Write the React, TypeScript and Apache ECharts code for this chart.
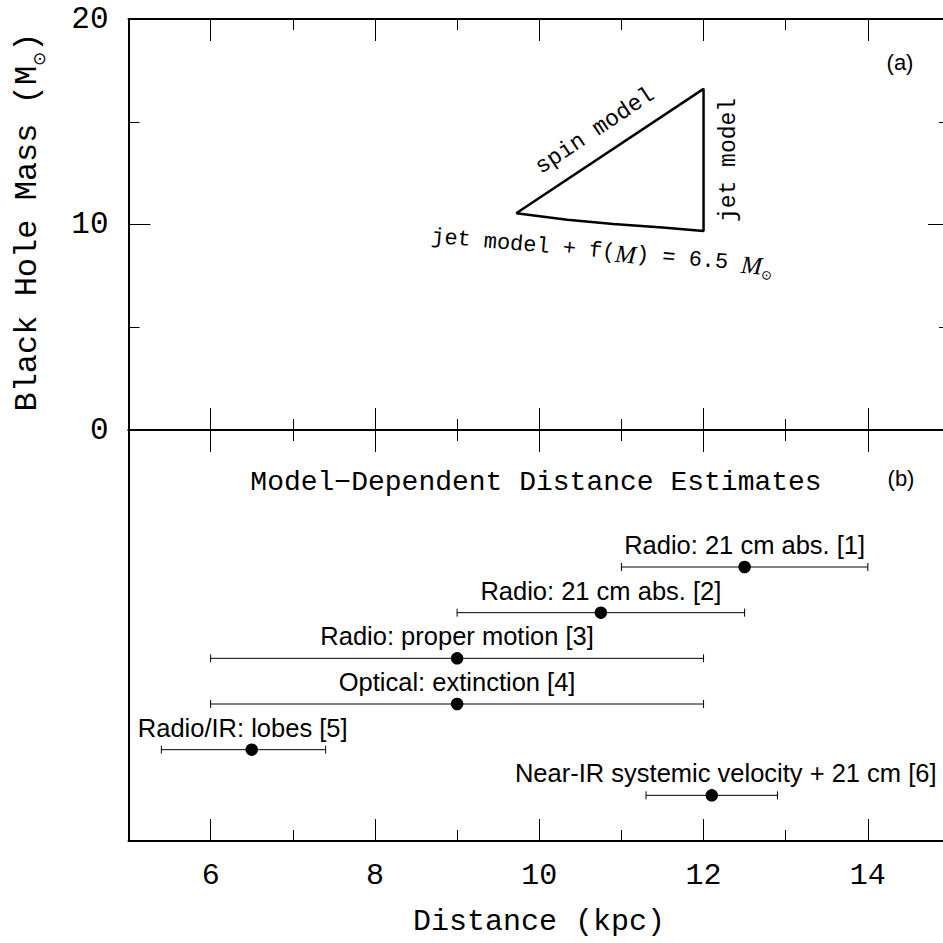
import React, { useEffect, useRef } from 'react';
import * as echarts from 'echarts';

// ---- data ----
const triangleX = [9.72, 12.0, 12.0, 11.5, 10.9, 10.34, 9.72];
const triangleY = [10.55, 16.6, 9.68, 9.85, 10.03, 10.23, 10.55];

const estimateLabels = [
  'Radio: 21 cm abs. [1]',
  'Radio: 21 cm abs. [2]',
  'Radio: proper motion [3]',
  'Optical: extinction [4]',
  'Radio/IR: lobes [5]',
  'Near-IR systemic velocity + 21 cm [6]',
];
const estimateCenter = [12.5, 10.75, 9.0, 9.0, 6.5, 12.1];
const estimateLow = [11.0, 9.0, 6.0, 6.0, 5.4, 11.3];
const estimateHigh = [14.0, 12.5, 12.0, 12.0, 7.4, 12.9];
const estimateRow = [3, 4, 5, 6, 7, 8];
const labelX = [12.5, 10.75, 9.0, 9.0, 6.39, 12.27];

const majorX = [6, 8, 10, 12, 14];
const minorX = [7, 9, 11, 13];

const HERSHEY = 'Liberation Mono';
const SANS = 'Liberation Sans';

function mkX(gridIndex: number, position: string, ticks: number[], len: number, showLine: boolean, labels: boolean) {
  return {
    type: 'value',
    gridIndex,
    position,
    min: 5,
    max: 15,
    axisLine: { show: showLine, onZero: false, lineStyle: { color: '#000', width: 2 } },
    axisTick: { show: true, inside: true, length: len, customValues: ticks, lineStyle: { color: '#000', width: 1 } },
    axisLabel: labels
      ? {
          show: true,
          customValues: majorX,
          formatter: (v: number) => String(v),
          fontFamily: HERSHEY,
          fontSize: 30,
          color: '#000',
          margin: 20,
        }
      : { show: false },
    splitLine: { show: false },
  };
}

export default function App() {
  const ref = useRef<HTMLDivElement>(null);
  useEffect(() => {
    if (!ref.current) return;
    const chart = echarts.init(ref.current, null, { renderer: 'svg' });
    const barData = estimateLabels.map((_, i) => [estimateLow[i], estimateHigh[i], estimateRow[i], labelX[i]]);
    const dotData = estimateCenter.map((c, i) => [c, estimateRow[i]]);
    const triData = triangleX.map((x, i) => [x, triangleY[i]]);

    const yTop = (position: string, labels: boolean) => ({
      type: 'value',
      gridIndex: 0,
      position,
      min: 0,
      max: 20,
      interval: 10,
      axisLine: { show: true, onZero: false, lineStyle: { color: '#000', width: 2 } },
      axisTick: { show: true, inside: true, length: 22, lineStyle: { color: '#000', width: 1 } },
      minorTick: { show: true, splitNumber: 2, length: 11, lineStyle: { color: '#000', width: 1 } },
      axisLabel: labels
        ? { show: true, fontFamily: HERSHEY, fontSize: 31, color: '#000', margin: 20, showMinLabel: true, showMaxLabel: true }
        : { show: false },
      splitLine: { show: false },
      minorSplitLine: { show: false },
    });
    const yBot = (position: string) => ({
      type: 'value',
      gridIndex: 1,
      position,
      min: 0,
      max: 9,
      inverse: true,
      axisLine: { show: true, onZero: false, lineStyle: { color: '#000', width: 2 } },
      axisTick: { show: false },
      axisLabel: { show: false },
      splitLine: { show: false },
    });

    const option: any = {
      animation: false,
      backgroundColor: '#fff',
      grid: [
        { left: 128.5, right: -7, top: 19, height: 411, containLabel: false, outerBoundsMode: 'none' },
        { left: 128.5, right: -7, top: 430, height: 411, containLabel: false, outerBoundsMode: 'none' },
      ],
      xAxis: [
        mkX(0, 'bottom', majorX, 22, true, false),
        mkX(0, 'top', majorX, 22, true, false),
        mkX(0, 'bottom', minorX, 11, false, false),
        mkX(0, 'top', minorX, 11, false, false),
        mkX(1, 'bottom', majorX, 22, true, true),
        mkX(1, 'top', majorX, 22, true, false),
        mkX(1, 'bottom', minorX, 11, false, false),
        mkX(1, 'top', minorX, 11, false, false),
      ],
      yAxis: [yTop('left', true), yTop('right', false), yBot('left'), yBot('right')],
      series: [
        {
          type: 'line',
          xAxisIndex: 0,
          yAxisIndex: 0,
          data: triData,
          symbol: 'none',
          lineStyle: { color: '#000', width: 2.5 },
          z: 5,
        },
        {
          type: 'custom',
          xAxisIndex: 4,
          yAxisIndex: 2,
          data: barData,
          renderItem: (params: any, api: any) => {
            const lo = api.coord([api.value(0), api.value(2)]);
            const hi = api.coord([api.value(1), api.value(2)]);
            const lab = api.coord([api.value(3), api.value(2)]);
            const st = { stroke: '#000', lineWidth: 1 };
            return {
              type: 'group',
              children: [
                { type: 'line', shape: { x1: lo[0], y1: lo[1], x2: hi[0], y2: hi[1] }, style: st },
                { type: 'line', shape: { x1: lo[0], y1: lo[1] - 4, x2: lo[0], y2: lo[1] + 4 }, style: st },
                { type: 'line', shape: { x1: hi[0], y1: hi[1] - 4, x2: hi[0], y2: hi[1] + 4 }, style: st },
                {
                  type: 'text',
                  x: lab[0],
                  y: lab[1] - 22,
                  style: {
                    text: estimateLabels[params.dataIndex],
                    fontFamily: SANS,
                    fontSize: 25.5,
                    fill: '#000',
                    align: 'center',
                    verticalAlign: 'middle',
                  },
                },
              ],
            };
          },
        },
        {
          type: 'scatter',
          xAxisIndex: 4,
          yAxisIndex: 2,
          data: dotData,
          symbol: 'circle',
          symbolSize: 12.5,
          itemStyle: { color: '#000', opacity: 1 },
          z: 6,
        },
      ],
      graphic: [
        {
          type: 'text',
          x: 27,
          y: 222,
          rotation: Math.PI / 2,
          style: {
            text: '{a|Black Hole Mass (M}{s|⊙}{a|)}',
            align: 'center',
            verticalAlign: 'middle',
            rich: {
              a: { fontFamily: HERSHEY, fontSize: 32, lineHeight: 40, fill: '#000' },
              s: { fontFamily: 'DejaVu Sans', fontSize: 17, lineHeight: 20, verticalAlign: 'bottom', fill: '#000' },
            },
          },
        },
        {
          type: 'text',
          x: 539,
          y: 922,
          style: { text: 'Distance (kpc)', fontFamily: HERSHEY, fontSize: 30, fill: '#000', align: 'center', verticalAlign: 'middle' },
        },
        {
          type: 'text',
          x: 536,
          y: 482,
          style: {
            text: 'Model\u2212Dependent Distance Estimates',
            fontFamily: HERSHEY,
            fontSize: 28,
            fill: '#000',
            align: 'center',
            verticalAlign: 'middle',
          },
        },
        {
          type: 'text',
          x: 900,
          y: 62,
          style: { text: '(a)', fontFamily: SANS, fontSize: 22, fill: '#000', align: 'center', verticalAlign: 'middle' },
        },
        {
          type: 'text',
          x: 901,
          y: 478,
          style: { text: '(b)', fontFamily: SANS, fontSize: 22, fill: '#000', align: 'center', verticalAlign: 'middle' },
        },
        {
          type: 'text',
          x: 595,
          y: 131,
          rotation: (33.7 * Math.PI) / 180,
          style: { text: 'spin model', fontFamily: HERSHEY, fontSize: 23, fill: '#000', align: 'center', verticalAlign: 'middle' },
        },
        {
          type: 'text',
          x: 729,
          y: 160,
          rotation: Math.PI / 2,
          style: { text: 'jet model', fontFamily: HERSHEY, fontSize: 23, fill: '#000', align: 'center', verticalAlign: 'middle' },
        },
        {
          type: 'text',
          x: 602,
          y: 252,
          rotation: (-5 * Math.PI) / 180,
          style: {
            text: '{a|jet model + f(}{i|M}{a|) = 6.5 }{i|M}{s|⊙}',
            align: 'center',
            verticalAlign: 'middle',
            rich: {
              a: { fontFamily: HERSHEY, fontSize: 22, lineHeight: 30, fill: '#000' },
              i: { fontFamily: 'Liberation Serif', fontStyle: 'italic', fontSize: 25, lineHeight: 30, fill: '#000' },
              s: { fontFamily: 'DejaVu Sans', fontSize: 13, lineHeight: 16, verticalAlign: 'bottom', fill: '#000' },
            },
          },
        },
      ],
    };
    chart.setOption(option);
    return () => chart.dispose();
  }, []);
  return (
    <div
      ref={ref}
      style={{ position: 'fixed', left: 0, top: 0, width: 943, height: 943, background: '#fff' }}
    />
  );
}
